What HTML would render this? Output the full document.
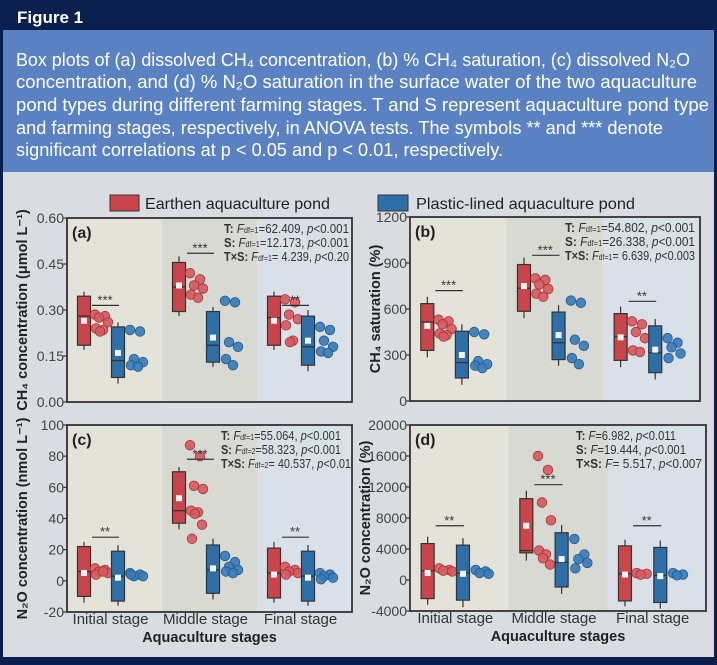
<!DOCTYPE html>
<html><head><meta charset="utf-8"><style>
html,body{margin:0;padding:0;background:#0b1f4e;}
svg{display:block;font-family:"Liberation Sans",sans-serif;}
</style></head><body>
<svg id="fig" width="717" height="665" viewBox="0 0 717 665">
<rect x="0" y="0" width="717" height="665" fill="#0b1f4e"/>
<text x="17" y="23" font-size="17" font-weight="bold" fill="#ffffff">Figure 1</text>
<rect x="3" y="30" width="711" height="142" fill="#5a82c2"/>
<g fill="#ffffff" font-size="18.5">
<text x="16" y="66" textLength="674" lengthAdjust="spacingAndGlyphs">Box plots of (a) dissolved CH₄ concentration, (b) % CH₄ saturation, (c) dissolved N₂O</text>
<text x="16" y="88" textLength="681" lengthAdjust="spacingAndGlyphs">concentration, and (d) % N₂O saturation in the surface water of the two aquaculture</text>
<text x="16" y="111" textLength="693" lengthAdjust="spacingAndGlyphs">pond types during different farming stages. T and S represent aquaculture pond type</text>
<text x="16" y="134" textLength="647" lengthAdjust="spacingAndGlyphs">and farming stages, respectively, in ANOVA tests. The symbols ** and *** denote</text>
<text x="16" y="156" textLength="487" lengthAdjust="spacingAndGlyphs">significant correlations at p &lt; 0.05 and p &lt; 0.01, respectively.</text>
</g>
<rect x="3" y="172" width="711" height="485" fill="#d9dde1"/>
<g>
<rect x="110" y="195" width="29" height="16" fill="#c9454b" stroke="#333" stroke-width="1"/>
<text x="145" y="209" font-size="16" fill="#222" textLength="185" lengthAdjust="spacingAndGlyphs">Earthen aquaculture pond</text>
<rect x="378" y="195" width="30" height="16" fill="#2f6fa8" stroke="#333" stroke-width="1"/>
<text x="416" y="209" font-size="16" fill="#222" textLength="219" lengthAdjust="spacingAndGlyphs">Plastic-lined aquaculture pond</text>
</g>
<g id="plots"></g>
</svg>
<script>
// ---- data ----
const stages = ["Initial stage","Middle stage","Final stage"];
// box stats: [whiskerLow, q1, median, q3, whiskerHigh, mean]
const aRed = [[0.17,0.185,0.28,0.345,0.36,0.265],[0.28,0.295,0.375,0.455,0.475,0.38],[0.17,0.185,0.275,0.345,0.36,0.265]];
const aBlue = [[0.06,0.08,0.135,0.245,0.26,0.16],[0.115,0.13,0.185,0.295,0.31,0.21],[0.10,0.12,0.18,0.28,0.30,0.20]];
const aRedPts = [[0.285,0.28,0.275,0.26,0.24,0.235,0.23],[0.42,0.40,0.38,0.37,0.35,0.34],[0.335,0.325,0.285,0.27,0.25,0.20,0.195]];
const aBluePts = [[0.235,0.23,0.14,0.13,0.12,0.115],[0.33,0.325,0.195,0.18,0.14,0.12],[0.245,0.235,0.20,0.18,0.165,0.16]];
const aSig = [0.315,0.485,0.315];
const aSigLbl = ["***","***","**"];
const aTicks = [0,0.15,0.30,0.45,0.60];
const aTickLbl = ["0.00","0.15","0.30","0.45","0.60"];

const bRed = [[285,330,515,635,680,490],[540,585,735,890,935,750],[220,265,420,570,615,415]];
const bBlue = [[105,150,250,455,500,300],[230,270,380,580,625,430],[140,185,315,490,535,335]];
const bRedPts = [[530,520,500,470,440,430,420],[800,790,760,730,700,680],[520,500,450,410,330,320]];
const bBluePts = [[450,435,260,240,230,215],[655,640,400,360,280,240],[410,380,350,310,280]];
const bSig = [720,950,650];
const bSigLbl = ["***","***","**"];
const bTicks = [0,300,600,900,1200];
const bTickLbl = ["0","300","600","900","1200"];

const cRed = [[-14,-10,6,22,25,5],[33,37,45,70,73,53],[-14,-11,5,21,25,4]];
const cBlue = [[-16,-13,3,19,23,2],[-12,-8,7,23,27,8],[-16,-13,3,19,23,2]];
const cRedPts = [[8,7,6,5,4,6],[87,80,61,59,45,44,43,36,27],[9,7,6,5,4]];
const cBluePts = [[5,4,3,3,4],[16,12,9,7,6,5],[5,4,3,2,1]];
const cSig = [28,78,28];
const cSigLbl = ["**","***","**"];
const cTicks = [-20,0,20,40,60,80,100];
const cTickLbl = ["-20","0","20","40","60","80","100"];

const dRed = [[-3200,-2400,1200,4700,5600,900],[2500,3500,3800,10500,11500,7000],[-3400,-2700,800,4400,5200,700]];
const dBlue = [[-3500,-2600,900,4500,5400,800],[-1800,-900,2300,6100,7100,2700],[-3700,-2900,600,4200,5100,500]];
const dRedPts = [[1500,1300,1200,1100],[16000,14200,10000,7700,3800,3300,2800,2000],[900,800,700]];
const dBluePts = [[1300,1100,900,800],[5300,3300,2700,2200,1500],[900,700,600]];
const dSig = [7000,12300,7000];
const dSigLbl = ["**","***","**"];
const dTicks = [-4000,0,4000,8000,12000,16000,20000];
const dTickLbl = ["-4000","0","4000","8000","12000","16000","20000"];

const NS="http://www.w3.org/2000/svg";
const root=document.getElementById('plots');
function mk(tag,attrs,parent,txt){const e=document.createElementNS(NS,tag);for(const k in attrs)e.setAttribute(k,attrs[k]);if(txt!==undefined)e.textContent=txt;(parent||root).appendChild(e);return e;}

const jit=[-6,4,-2,7,-5,2,-1,6,-4];
function panel(cfg){
  const g=mk('g',{});
  
  
  const x0=cfg.x0,x1=cfg.x1,y0=cfg.y0,y1=cfg.y1;
  const tmin=cfg.ticks[0],tmax=cfg.ticks[cfg.ticks.length-1];
  const sy=v=>y1-(v-tmin)/(tmax-tmin)*(y1-y0);
  const gw=(x1-x0)/3;
  const bands=["#e4e3d9","#d8d9d2","#dae0e8"];
  for(let i=0;i<3;i++){
    const b=mk('rect',{x:x0+i*gw,y:y0,width:gw,height:y1-y0,fill:bands[i]},g);
    
    
  }
  cfg.ticks.forEach((t,i)=>{
    const y=sy(t);
    const l=mk('line',{x1:x0-4,x2:x0,y1:y,y2:y,stroke:'#333','stroke-width':1.2},g);
    
    
    const tx=mk('text',{x:x0-3,y:y+5,'font-size':14,'text-anchor':'end',fill:'#444'},g,cfg.tickLbl[i]);
    
    
  });
  const cols={r:{box:'#c9454b',dot:'#d65a5f',st:'#a83338'},b:{box:'#2f6fa8',dot:'#3a7cb8',st:'#245a8c'}};
  function drawBox(s,cx,c,name){
    const bw=13;
    const w=mk('line',{x1:cx,x2:cx,y1:sy(s[0]),y2:sy(s[4]),stroke:'#333','stroke-width':1.2},g);
    
    
    const r=mk('rect',{x:cx-bw/2,y:sy(s[3]),width:bw,height:sy(s[1])-sy(s[3]),fill:c.box,stroke:'#333','stroke-width':1.2},g);
    
    
    const m=mk('line',{x1:cx-bw/2,x2:cx+bw/2,y1:sy(s[2]),y2:sy(s[2]),stroke:'#333','stroke-width':1.3},g);
    
    
    const mn=mk('rect',{x:cx-3,y:sy(s[5])-3,width:6,height:6,fill:'#f2f2f2'},g);
    
    
  }
  function drawPts(pts,cx,c,name){
    pts.forEach((v,i)=>{
      const p=mk('circle',{cx:cx+jit[i%jit.length],cy:sy(v),r:4.8,fill:c.dot,stroke:c.st,'stroke-width':0.8,'fill-opacity':0.92},g);
      
      
    });
  }
  const sc=gw/95;
  for(let i=0;i<3;i++){
    const gl=x0+i*gw;
    const rc=gl+17*sc,rp=gl+34*sc,bc=gl+51*sc,bp=gl+69*sc;
    drawBox(cfg.red[i],rc,cols.r,'earthen-'+i);
    drawPts(cfg.redPts[i],rp,cols.r,'earthen-'+i);
    drawBox(cfg.blue[i],bc,cols.b,'plastic-'+i);
    drawPts(cfg.bluePts[i],bp,cols.b,'plastic-'+i);
    const ys=sy(cfg.sig[i]);
    const sl=mk('line',{x1:rc+8,x2:bc+1,y1:ys,y2:ys,stroke:'#333','stroke-width':1.2},g);
    
    
    const st=mk('text',{x:(rc+bc)/2+4,y:ys-1,'font-size':13,'text-anchor':'middle',fill:'#333'},g,cfg.sigLbl[i]);
    
    
  }
  const fr=mk('rect',{x:x0,y:y0,width:x1-x0,height:y1-y0,fill:'none',stroke:'#333','stroke-width':1.8},g);
  
  
  const pl=mk('text',{x:x0+5,y:y0+20,'font-size':16,'font-weight':'bold',fill:'#222'},g,'('+cfg.id+')');
  
  
  cfg.stats.forEach((s,i)=>{
    const t=mk('text',{x:cfg.statX,y:y0+15+i*14,'font-size':12.5,fill:'#333',textLength:cfg.statW[i],lengthAdjust:'spacingAndGlyphs'},g);
    t.innerHTML=s;
    
    
  });
  const yt=mk('text',{x:0,y:0,'font-size':14.5,'font-weight':'bold',fill:'#222','text-anchor':'middle',transform:`translate(${cfg.ytX},${(y0+y1)/2}) rotate(-90)`},g,cfg.ytitle);
  
  
  if(cfg.xlab){
    for(let i=0;i<3;i++){
      const xl=mk('text',{x:x0+(i+0.5)*gw-4,y:y1+12,'font-size':15,'text-anchor':'middle',fill:'#333'},g,stages[i]);
      
      
    }
    const xt=mk('text',{x:(x0+x1)/2,y:y1+30,'font-size':14.5,'font-weight':'bold','text-anchor':'middle',fill:'#222'},g,'Aquaculture stages');
    
    
  }
}
const B=s=>'<tspan font-weight="bold">'+s+'</tspan>';
const I=s=>'<tspan font-style="italic">'+s+'</tspan>';
const sub=s=>'<tspan font-size="8">'+s+'</tspan>';
panel({id:'a',x0:67,x1:352,y0:218,y1:402,ticks:aTicks,tickLbl:aTickLbl,red:aRed,blue:aBlue,redPts:aRedPts,bluePts:aBluePts,sig:aSig,sigLbl:aSigLbl,
 statX:224,statW:[125,125,125],ytX:27,ytitle:'CH₄ concentration (μmol L⁻¹)',
 stats:[B('T: ')+I('F')+sub('df=1')+'=62.409, '+I('p')+'&lt;0.001',B('S: ')+I('F')+sub('df=1')+'=12.173, '+I('p')+'&lt;0.001',B('T×S: ')+I('F')+sub('df=1')+'= 4.239, '+I('p')+'&lt;0.20']});
panel({id:'b',x0:410,x1:700,y0:217,y1:401,ticks:bTicks,tickLbl:bTickLbl,red:bRed,blue:bBlue,redPts:bRedPts,bluePts:bBluePts,sig:bSig,sigLbl:bSigLbl,
 statX:565,statW:[130,130,130],ytX:380,ytitle:'CH₄ saturation (%)',
 stats:[B('T: ')+I('F')+sub('df=1')+'=54.802, '+I('p')+'&lt;0.001',B('S: ')+I('F')+sub('df=1')+'=26.338, '+I('p')+'&lt;0.001',B('T×S: ')+I('F')+sub('df=1')+'= 6.639, '+I('p')+'&lt;0.003']});
panel({id:'c',x0:67,x1:352,y0:425,y1:612,ticks:cTicks,tickLbl:cTickLbl,red:cRed,blue:cBlue,redPts:cRedPts,bluePts:cBluePts,sig:cSig,sigLbl:cSigLbl,
 statX:221,statW:[120,120,130],ytX:27,ytitle:'N₂O concentration (nmol L⁻¹)',xlab:true,
 stats:[B('T: ')+I('F')+sub('df=1')+'=55.064, '+I('p')+'&lt;0.001',B('S: ')+I('F')+sub('df=2')+'=58.323, '+I('p')+'&lt;0.001',B('T×S: ')+I('F')+sub('df=2')+'= 40.537, '+I('p')+'&lt;0.01']});
panel({id:'d',x0:410,x1:706,y0:425,y1:611,ticks:dTicks,tickLbl:dTickLbl,red:dRed,blue:dBlue,redPts:dRedPts,bluePts:dBluePts,sig:dSig,sigLbl:dSigLbl,
 statX:576,statW:[100,110,126],ytX:370,ytitle:'N₂O concentration (%)',xlab:true,
 stats:[B('T: ')+I('F')+'=6.982, '+I('p')+'&lt;0.011',B('S: ')+I('F')+'=19.444, '+I('p')+'&lt;0.001',B('T×S: ')+I('F')+'= 5.517, '+I('p')+'&lt;0.007']});
</script>
</body></html>
